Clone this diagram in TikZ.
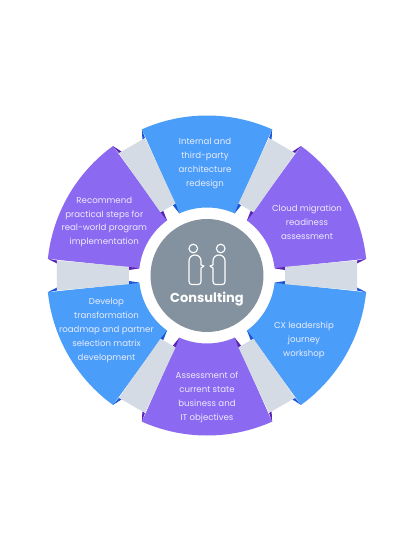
\documentclass[tikz,border=0pt]{standalone}
\usepackage{fontspec}
\setmainfont{Poppins}
\definecolor{sblue}{HTML}{4A9EF9}
\definecolor{dblue}{HTML}{1D55D8}
\definecolor{spurple}{HTML}{8C69F1}
\definecolor{dpurple}{HTML}{5B24B5}
\definecolor{bandgray}{HTML}{D5DBE4}
\definecolor{hubgray}{HTML}{84929F}
\tikzset{
  label text/.style={text=white!92!blue,font=\fontsize{8.6}{13.8}\selectfont,align=center,inner sep=0pt},
  hub title/.style={text=white,font=\fontsize{13}{16}\selectfont\bfseries,inner sep=0pt},
  icon line/.style={draw=white,line width=1.15pt,line join=round,fill=none}
}
\begin{document}
\begin{tikzpicture}[x=1pt,y=1pt]
\useasboundingbox (-207,-276.5) rectangle (207,275.5);
\fill[white] (-207,-276.5) rectangle (207,275.5);
% sectors
\foreach \a/\c in {90/sblue,30/spurple,-30/sblue,-90/spurple,-150/sblue,150/spurple}{
  \fill[\c] ({\a-24}:160pt) arc[start angle={\a-24},end angle={\a+24},radius=160pt]
    -- ({\a+24}:68pt) arc[start angle={\a+24},end angle={\a-24},radius=68pt] -- cycle;
}
% flaps and bands
\foreach \g/\up/\dn in {120/dpurple/dblue,60/dblue/dpurple,0/dpurple/dblue,-60/dblue/dpurple,-120/dpurple/dblue,180/dblue/dpurple}{
  \begin{scope}[rotate=\g]
    \fill[\up] (159.1,16.7) -- (150,15) -- (150,12) -- cycle;
    \fill[\up] (67.6,7.1) -- (78,8.7) -- (78,5.5) -- cycle;
    \fill[\dn] (159.1,-16.7) -- (150,-15) -- (150,-12) -- cycle;
    \fill[\dn] (67.6,-7.1) -- (78,-8.7) -- (78,-5.5) -- cycle;
    \fill[bandgray] (78,8.7) -- (150,15) -- (150,-15) -- (78,-8.7) -- cycle;
  \end{scope}
}
% hub
\node[circle,fill=hubgray,minimum size=113pt,inner sep=0pt] (hub) at (0,0) {};
\node[hub title] (title) at (0,-23.5) {Consulting};
% icon
\draw[icon line] (-13.7,27) circle[radius=4.3pt];
\draw[icon line] (13.7,27) circle[radius=4.3pt];
\draw[icon line] (-12,20.5) .. controls (-15.5,20.5) and (-18,18) .. (-18,14.5)
  -- (-18,-6) .. controls (-18,-8) and (-17,-9) .. (-15,-9)
  -- (-9,-9) .. controls (-7,-9) and (-6,-8) .. (-6,-6)
  -- (-6,7.5) -- (-3,9.5) -- (-6,10.5) -- (-6,14.5) .. controls (-6,18) and (-8.5,20.5) .. (-12,20.5) -- cycle;
\draw[icon line] (12,20.5) .. controls (15.5,20.5) and (18,18) .. (18,14.5)
  -- (18,-6) .. controls (18,-8) and (17,-9) .. (15,-9)
  -- (9,-9) .. controls (7,-9) and (6,-8) .. (6,-6)
  -- (6,7.5) -- (3,9.5) -- (6,10.5) -- (6,14.5) .. controls (6,18) and (8.5,20.5) .. (12,20.5) -- cycle;
% labels
\node[label text] (top) at (-2,112) {Internal and\\third-party\\architecture\\redesign};
\node[label text] (ur) at (100,53.5) {Cloud migration\\readiness\\assessment};
\node[label text] (lr) at (97,-65) {CX leadership\\journey\\workshop};
\node[label text] (bot) at (0,-122) {Assessment of\\current state\\business and\\IT objectives};
\node[label text] (ll) at (-100.5,-55) {Develop\\transformation\\roadmap and partner\\selection matrix\\development};
\node[label text] (ul) at (-102.7,53.5) {Recommend\\practical steps for\\real-world program\\implementation};
\end{tikzpicture}
\end{document}
